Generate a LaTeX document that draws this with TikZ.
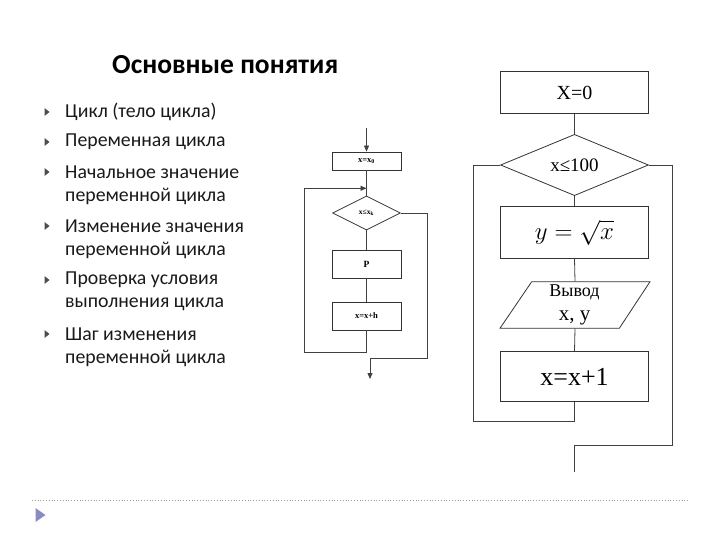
\documentclass[tikz,border=0pt]{standalone}
\usepackage{fontspec}
\setmainfont{Liberation Serif}
\newfontfamily\calib{Carlito}
\usetikzlibrary{shapes.geometric,arrows.meta}
\begin{document}
\begin{tikzpicture}[x=1pt,y=-1pt,
  ln/.style={draw=black!75,line width=0.8pt},
  sbox/.style={draw=black!80,line width=0.8pt,minimum width=69pt,inner sep=0pt,font=\fontsize{8.5}{9}\selectfont\bfseries},
  bbox/.style={draw=black!80,line width=0.8pt,minimum width=147.6pt,inner sep=0pt},
  sdiam/.style={draw=black!80,line width=0.8pt,diamond,minimum width=68pt,minimum height=34pt,inner sep=0pt,font=\fontsize{7.5}{8}\selectfont\bfseries},
  bdiam/.style={draw=black!80,line width=0.8pt,diamond,minimum width=148pt,minimum height=48pt,inner sep=0pt,font=\fontsize{19}{21}\selectfont},
  item/.style={anchor=west,inner sep=0pt,font=\calib\fontsize{19.8}{24}\selectfont,text=black!90,align=left},
  arr/.style={-{Triangle[length=6pt,width=5pt]}}
]
\useasboundingbox (0,0) rectangle (720,540);
% title
\node[font=\calib\bfseries\fontsize{27.5}{30}\selectfont,anchor=west,inner sep=0pt] (title) at (112,65) {Основные понятия};
% bullet list
\foreach \yy in {112,142,172,226,280,334}{
  \fill[black!70] (44.5,\yy-4) -- (49.5,\yy) -- (44.5,\yy+4) -- cycle;
}
\node[item] (i1) at (65,112) {Цикл (тело цикла)};
\node[item] (i2) at (65,142) {Переменная цикла};
\node[item] (i3) at (65,172) {Начальное значение};
\node[item] (i3b) at (65,196) {переменной цикла};
\node[item] (i4) at (65,226) {Изменение значения};
\node[item] (i4b) at (65,250) {переменной цикла};
\node[item] (i5) at (65,280) {Проверка условия};
\node[item] (i5b) at (65,304) {выполнения цикла};
\node[item] (i6) at (65,334) {Шаг изменения};
\node[item] (i6b) at (65,358) {переменной цикла};

% small flowchart
\coordinate (sin) at (366.5,128);
\node[sbox,minimum height=18pt] (s1) at (366.5,161) {x=x\textsubscript{0}};
\coordinate (sj) at (366.5,188.3);
\node[sdiam] (sd) at (366.5,213) {x≤x\textsubscript{k}};
\node[sbox,minimum height=28pt,font=\fontsize{9.5}{10}\selectfont\bfseries] (sp) at (366.5,264) {P};
\node[sbox,minimum height=28pt] (sh) at (366.5,316) {x=x+h};
\coordinate (sb) at (366.5,352);
\coordinate (sbl) at (304,352);
\coordinate (stl) at (304,188.3);
\coordinate (sr1) at (427.3,213);
\coordinate (sr2) at (427.3,358.3);
\coordinate (sr3) at (370,358.3);
\coordinate (sout) at (370,379);
\draw[ln,arr] (sin) -- (s1.north);
\draw[ln] (s1.south) -- (sd.north);
\draw[ln] (sd.south) -- (sp.north);
\draw[ln] (sp.south) -- (sh.north);
\draw[ln] (sh.south) -- (sb) -- (sbl) -- (stl);
\draw[ln,arr] (stl) -- (sj);
\draw[ln] (sd.east) -- (sr1) -- (sr2) -- (sr3);
\draw[ln,arr] (sr3) -- (sout);

% big flowchart
\node[bbox,minimum height=41.6pt,font=\fontsize{20}{22}\selectfont] (b1) at (574.5,92.5) {X=0};
\node[bdiam] (d1) at (574.5,165) {\raisebox{-4pt}{x≤100}};
\node[bbox,minimum height=51.6pt] (b2) at (574.5,232.5) {\fontsize{25}{27}\selectfont$y=\sqrt{x}$};
\node[minimum width=150pt,minimum height=46.6pt,inner sep=0pt] (io) at (575,305) {};
\draw[draw=black!80,line width=0.8pt] (500,328.3) -- (531.7,281.7) -- (650,281.7) -- (619.3,328.3) -- cycle;
\node[font=\fontsize{18}{20}\selectfont,inner sep=0pt] (iot) at (574.5,292) {Вывод};
\node[font=\fontsize{21}{23}\selectfont,inner sep=0pt] (iov) at (574.5,318) {x, y};
\node[bbox,minimum height=50pt,font=\fontsize{26}{28}\selectfont] (b3) at (574.5,376.7) {x=x+1};
\coordinate (bb) at (574.5,421);
\coordinate (bbl) at (473.3,421);
\coordinate (btl) at (473.3,165);
\coordinate (br1) at (672.3,165);
\coordinate (br2) at (672.3,445);
\coordinate (br3) at (574.5,445);
\coordinate (bout) at (574.5,472);
\draw[ln] (b1.south) -- (d1.north);
\draw[ln] (d1.south) -- (b2.north);
\draw[ln] (b2.south) -- (io.north);
\draw[ln] (io.south) -- (b3.north);
\draw[ln] (b3.south) -- (bb) -- (bbl) -- (btl) -- (d1.west);
\draw[ln] (d1.east) -- (br1) -- (br2) -- (br3) -- (bout);

% footer
\coordinate (fl) at (32,500);
\coordinate (fr) at (688,500);
\draw[black!40,dotted,line width=0.8pt] (fl) -- (fr);
\fill[blue!30!gray!70] (35.5,508) -- (45.5,515) -- (35.5,522) -- cycle;
\end{tikzpicture}
\end{document}
